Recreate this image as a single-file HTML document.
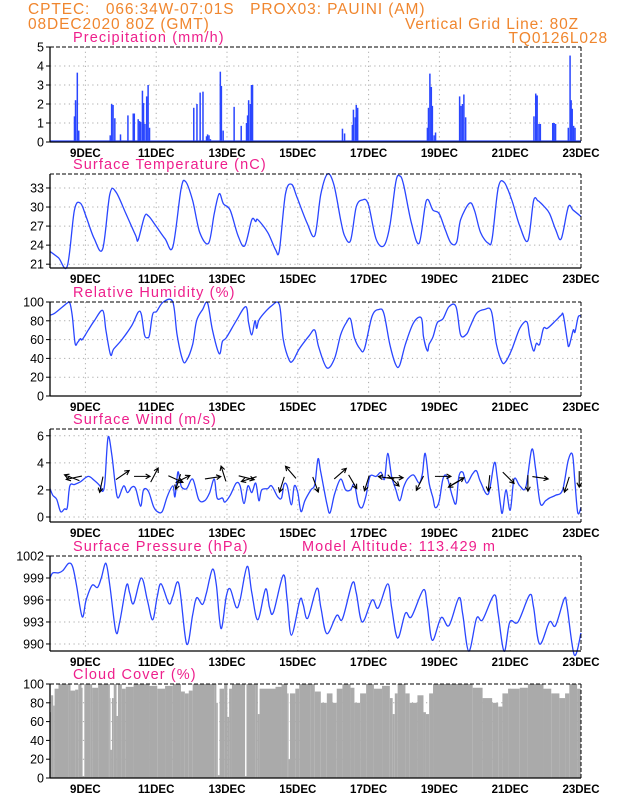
<!DOCTYPE html>
<html><head><meta charset="utf-8">
<style>
html,body{margin:0;padding:0;background:#fff;}
body{width:618px;height:800px;overflow:hidden;font-family:"Liberation Sans",sans-serif;}
svg text{font-family:"Liberation Sans",sans-serif;}
</style></head>
<body>
<svg id="chart" width="618" height="800" viewBox="0 0 618 800" xmlns="http://www.w3.org/2000/svg">
<g fill="#f0862e" font-size="15.5" letter-spacing="0.9">
<text x="28" y="14" xml:space="preserve">CPTEC:   066:34W-07:01S   PROX03: PAUINI (AM)</text>
<text x="28" y="29">08DEC2020 80Z (GMT)</text>
<text x="579" y="29" text-anchor="end">Vertical Grid Line: 80Z</text>
<text x="608" y="43" text-anchor="end">TQ0126L028</text>
</g>
</svg>
<script>
// ===== data (time in days since 08DEC 08Z) =====
const dateLabels = ["9DEC","11DEC","13DEC","15DEC","17DEC","19DEC","21DEC","23DEC"];
const dateDays = [1,3,5,7,9,11,13,15];

const precipDays = [.69,.72,.77,.81,1.70,1.74,1.78,1.83,1.99,2.20,2.35,2.38,2.49,2.53,2.56,2.61,2.64,2.68,2.73,2.77,2.81,4.06,4.15,4.24,4.32,4.42,4.45,4.49,4.53,4.81,4.84,4.89,5.20,5.40,5.55,5.58,5.61,5.66,5.69,5.72,6.40,6.48,8.26,8.32,8.54,8.57,8.62,8.65,8.69,10.66,10.69,10.73,10.77,10.80,10.85,10.89,11.57,11.61,11.65,11.69,11.74,13.67,13.72,13.76,13.81,13.85,14.20,14.24,14.28,14.64,14.69,14.72,14.75,14.79,14.83];
const precipVals = [1.35,2.2,3.65,0.6,0.35,2.0,1.95,1.25,0.4,1.4,1.5,1.5,1.2,1.1,1.05,2.7,2.05,0.95,2.4,3.0,0.75,1.8,2.0,2.6,2.65,0.3,0.4,0.35,0.15,3.7,2.95,0.6,1.85,0.85,1.0,1.4,2.2,2.0,3.0,3.0,0.07,0.07,0.7,0.45,0.9,1.7,1.3,1.95,1.8,0.75,1.8,3.6,2.9,1.9,0.35,0.5,2.4,1.9,2.0,2.5,1.3,1.35,2.55,2.45,0.95,0.95,1.0,1.0,0.95,0.75,4.55,2.2,1.75,0.85,0.75];

const tempDays = [0,.24,.49,.69,.86,1.02,1.25,1.49,1.69,1.86,2.14,2.42,2.49,2.67,2.78,2.97,3.25,3.47,3.70,3.83,4.03,4.23,4.48,4.64,4.78,4.90,5.09,5.31,5.50,5.70,5.81,5.87,6.15,6.37,6.48,6.65,6.82,6.98,7.26,7.48,7.65,7.84,8.02,8.21,8.32,8.49,8.65,8.82,8.99,9.21,9.43,9.60,9.77,9.88,9.99,10.21,10.43,10.63,10.82,10.99,11.16,11.33,11.49,11.60,11.85,11.99,12.16,12.38,12.49,12.66,12.83,13.05,13.27,13.50,13.66,13.78,13.83,13.94,14.11,14.28,14.44,14.64,14.78,15];
const tempVals = [23,22,20.7,29.5,30.6,28.5,25,23.4,32,32.4,29,25.5,24.8,28.5,28.6,27.2,25,23.7,32.8,34,31,26,24.3,29,32.1,30.5,29.5,25.5,23.9,28,27.7,28,26,23.3,23.2,32,33.6,31.5,27.5,25.5,32,35.2,33.5,28,25.5,24.7,30,31.1,30.5,25,23.9,27,34,34.9,33.5,27.5,24.3,31,29.5,29,26.5,24.3,24.5,28,30.6,29.5,26,24.3,25,33,33.9,31,27,24.7,31,31,30.8,30.2,29,26.5,25,30,29.5,28.5];

const rhDays = [0,.13,.36,.49,.56,.63,.71,.78,.86,.91,1.08,1.25,1.49,1.58,1.71,1.80,2.03,2.31,2.49,2.58,2.67,2.75,2.81,2.90,3.01,3.20,3.47,3.59,3.75,3.86,4.03,4.14,4.31,4.45,4.59,4.78,4.87,4.98,5.26,5.53,5.61,5.70,5.79,5.84,5.92,6.26,6.48,6.59,6.76,6.87,7.04,7.32,7.48,7.59,7.82,8.04,8.21,8.37,8.49,8.60,8.76,8.88,9.10,9.29,9.43,9.60,9.77,9.88,10.04,10.27,10.49,10.55,10.66,10.71,10.82,10.94,11.10,11.27,11.47,11.60,11.77,11.88,12.05,12.27,12.47,12.61,12.77,12.88,13.05,13.27,13.47,13.55,13.66,13.74,13.83,13.94,14.05,14.28,14.44,14.50,14.61,14.66,14.78,14.83,14.92,15];
const rhVals = [86,88,95,99,99,85,56,57,61,60,70,80,91,70,44,50,60,75,89,87,65,62,65,87,90,100,100,65,38,38,55,80,92,99,70,45,58,62,80,95,78,65,80,72,82,96,97,60,38,38,50,64,70,52,30,40,65,78,82,62,50,50,85,92,88,55,33,33,55,78,83,63,48,55,63,78,82,95,95,65,66,75,88,92,90,55,36,37,50,72,79,63,48,56,55,72,72,80,86,86,60,53,70,68,84,85];

const windDays = [0,.08,.19,.30,.41,.49,.56,.69,.86,1.08,1.25,1.41,1.49,1.55,1.64,1.75,1.84,1.92,2.08,2.19,2.31,2.42,2.56,2.64,2.78,2.92,3.03,3.17,3.31,3.47,3.53,3.61,3.67,3.72,3.86,4.03,4.20,4.37,4.51,4.64,4.72,4.87,4.94,5.09,5.26,5.37,5.48,5.59,5.70,5.81,5.90,5.98,6.15,6.26,6.43,6.54,6.61,6.70,6.82,6.90,7.00,7.09,7.20,7.37,7.48,7.57,7.65,7.82,7.91,8.04,8.21,8.35,8.49,8.60,8.71,8.82,8.93,9.04,9.21,9.35,9.45,9.54,9.65,9.77,9.88,9.99,10.10,10.27,10.43,10.52,10.60,10.71,10.82,10.88,10.99,11.10,11.21,11.36,11.47,11.55,11.66,11.77,11.94,12.05,12.16,12.38,12.55,12.63,12.72,12.78,12.88,13.00,13.11,13.27,13.44,13.61,13.72,13.85,14.00,14.11,14.28,14.48,14.64,14.76,14.83,14.91,15];
const windVals = [2.1,1.6,1.3,0.4,0.6,0.7,2.3,2.4,2.6,3.0,2.7,2.3,1.9,2.6,5.9,4.5,2.5,1.4,2.3,1.8,2.2,2.1,0.8,2.0,1.9,0.8,0.4,0.4,1.5,2.3,1.5,3.3,2.7,2.2,2.1,2.8,1.3,1.2,1.8,2.8,1.4,1.4,1.1,1.6,2.5,2.3,1.0,2.3,1.8,2.5,1.2,2.0,2.1,2.3,1.5,1.4,2.4,2.3,0.9,2.3,1.8,0.4,1.2,2.0,2.4,4.3,3.3,1.0,0.3,1.7,2.8,2.0,2.0,2.4,1.0,0.7,1.6,3.0,3.0,3.3,2.8,4.7,3.0,2.0,1.2,2.2,2.8,3.1,2.5,3.2,4.7,2.5,1.4,0.7,1.1,2.8,3.0,1.6,1.0,3.0,3.3,2.5,3.2,3.4,2.6,1.7,4.0,3.0,1.0,0.3,2.0,0.5,2.8,2.3,2.2,5.0,3.5,1.0,1.2,1.4,1.6,2.0,4.2,4.6,2.5,0.3,0.7];

// wind arrows: position (day, speed level) and direction components
const arrowDays = [0.62,0.68,1.45,2.05,2.6,2.95,3.55,3.62,3.75,4.6,4.9,5.55,5.62,6.55,6.8,7.5,8.2,8.55,8.95,9.5,9.7,9.75,10.45,11.1,11.45,11.5,12.4,12.95,13.5,13.85,14.6,14.95];
const arrowLevels = [2.9,2.9,2.4,3.1,3.0,3.1,2.8,2.6,2.8,2.9,3.2,2.9,2.8,2.4,3.3,2.4,3.2,2.6,2.5,2.9,2.7,2.9,2.5,3.0,2.5,2.6,2.5,2.9,2.5,2.9,2.4,2.8];
const arrowU = [-0.9,-0.95,-0.2,0.8,1.0,0.45,1.0,-0.3,0.9,1.0,-0.3,1.0,-0.95,-0.3,-0.65,0.35,0.75,0.5,-0.3,-1.0,0.7,1.0,-0.45,1.0,-0.85,0.85,-0.1,0.7,0.0,1.0,-0.3,0.0];
const arrowV = [0.35,-0.2,-0.95,0.55,0.0,0.85,-0.45,-0.95,0.45,0.15,0.95,-0.25,-0.3,-0.95,0.75,-0.95,0.65,-0.85,-0.95,0.15,-0.7,0.0,-0.9,0.0,-0.5,0.5,-1.0,-0.7,-1.0,-0.15,-0.95,-1.0];

const presDays = [0,.08,.24,.36,.53,.64,.75,.91,1.02,1.19,1.34,1.45,1.58,1.69,1.86,1.97,2.16,2.25,2.36,2.58,2.75,2.90,3.03,3.14,3.36,3.47,3.64,3.86,4.03,4.14,4.31,4.42,4.59,4.70,4.83,4.98,5.09,5.26,5.37,5.57,5.70,5.87,6.09,6.20,6.31,6.59,6.70,6.82,7.06,7.15,7.28,7.54,7.65,7.82,8.10,8.26,8.54,8.65,8.82,9.10,9.27,9.54,9.65,9.82,10.04,10.21,10.55,10.66,10.80,11.05,11.27,11.55,11.66,11.83,12.05,12.22,12.55,12.66,12.83,12.99,13.22,13.55,13.66,13.83,14.11,14.28,14.53,14.61,14.81,15];
const presVals = [999,999.7,999.7,1000,1001,1000.5,998,993.7,996,998,997.7,999,1001,998,991.7,993,998,997,995.5,999,996,993.3,996.5,998.2,995.5,996.5,998.2,990,994,996.3,995.4,997,1000.2,998,992.1,996.5,997.5,995,996,1000.6,997,993.3,997.5,995,994.3,999.4,996,991.2,996,995.4,993.5,997.6,995,991.4,993.9,993.4,998.3,997,993,996,994.9,998.2,995,990.8,994.2,993.7,997.4,995,990.5,993.6,992.5,996.3,994,989,993.5,993.3,996.7,994,989,993,993,996.7,995,990,993,992.5,996.2,995,988.5,991.5];

const cloudDays = [0,.03,.09,.13,.24,.52,.58,.71,.80,.89,.92,.97,1.14,1.19,1.36,1.64,1.69,1.71,1.75,1.80,1.88,1.92,2.03,2.14,2.36,2.81,3.03,3.25,3.47,3.70,3.81,3.92,4.03,4.64,4.70,4.74,4.79,4.92,5.01,5.06,5.14,5.48,5.51,5.55,5.81,5.87,5.92,6.37,6.54,6.70,6.74,6.78,6.93,7.04,7.37,7.48,7.65,7.82,7.98,8.10,8.26,8.49,8.60,8.76,8.93,9.15,9.38,9.60,9.68,9.74,9.82,10.04,10.16,10.38,10.55,10.62,10.71,10.82,11.94,12.22,12.49,12.66,12.78,12.94,13.27,13.50,13.94,14.16,14.39,14.55,14.67,14.89,15];
const cloudVals = [70,88,77,95,100,100,93,94,100,96,2,100,100,96,100,100,85,30,85,100,66,100,95,97,100,98,95,98,100,92,90,93,100,100,80,3,95,100,65,95,100,100,2,100,100,68,95,97,100,90,20,90,95,100,100,92,80,90,80,95,100,96,80,90,100,95,98,85,68,90,100,90,80,88,70,68,90,100,96,85,80,76,90,95,96,100,95,90,85,90,100,95,100];

// ===== drawing =====
const NS = "http://www.w3.org/2000/svg";
const svg = document.getElementById("chart");
const X0 = 50, X1 = 581, NDAYS = 15;
const xScale = d => X0 + d / NDAYS * (X1 - X0);
const BLUE = "#2a46ff", PINK = "#ee1f8c";

function mk(tag, attrs, parent) {
  const e = document.createElementNS(NS, tag);
  for (const k in attrs) e.setAttribute(k, attrs[k]);
  (parent || svg).appendChild(e);
  return e;
}

function panel(key, title, top, bottom, vmin, vmax, ticks) {
  const g = mk("g", {});
  
  
  const y = v => bottom - (v - vmin) / (vmax - vmin) * (bottom - top);
  const t = mk("text", {x: 73, y: top - 5, fill: PINK, "font-size": 14.5, "letter-spacing": 1.1}, g);
  t.textContent = title;
  
  
  dateDays.forEach((d, i) => {
    if (d < NDAYS) {
      const gl = mk("line", {x1: xScale(d), x2: xScale(d), y1: top, y2: bottom, stroke: "#aaa", "stroke-dasharray": "1.2,3.5", "stroke-width": 1}, g);
      
      
    }
    const lb = mk("text", {x: xScale(d), y: bottom + 15, "text-anchor": "middle", "font-size": 11.5, fill: "#000", "font-weight": "bold"}, g);
    lb.textContent = dateLabels[i];
    
    
  });
  ticks.forEach(v => {
    const yy = y(v);
    if (yy > top + 1 && yy < bottom - 1) {
      const hl = mk("line", {x1: X0, x2: X1, y1: yy, y2: yy, stroke: "#aaa", "stroke-dasharray": "1.2,3.5"}, g);
      
      
    }
    mk("line", {x1: X0 - 4, x2: X0, y1: yy, y2: yy, stroke: "#000"}, g);
    const tl = mk("text", {x: X0 - 6, y: yy + 4.5, "text-anchor": "end", "font-size": 12.5, fill: "#000"}, g);
    tl.textContent = v;
    
    
  });
  const plot = mk("g", {}, g);
  
  
  const frame = () => {
    mk("line", {x1: X0, x2: X1, y1: top, y2: top, stroke: "#000", "stroke-dasharray": "4,2"}, g);
    mk("line", {x1: X1, x2: X1, y1: top, y2: bottom, stroke: "#000", "stroke-dasharray": "4,2"}, g);
    mk("line", {x1: X0, x2: X0, y1: top, y2: bottom, stroke: "#000", "stroke-width": 1.3}, g);
    mk("line", {x1: X0, x2: X1, y1: bottom, y2: bottom, stroke: "#000", "stroke-width": 1.3}, g);
  };
  return {g: plot, y, frame, top, bottom};
}

// smooth Catmull-Rom line through data points
function line(p, days, vals, name) {
  const P = days.map((d, i) => [xScale(d), p.y(vals[i])]);
  let d = `M${P[0][0].toFixed(1)},${P[0][1].toFixed(1)}`;
  for (let i = 0; i < P.length - 1; i++) {
    const a = P[Math.max(0, i - 1)], b = P[i], c = P[i + 1], e = P[Math.min(P.length - 1, i + 2)];
    const c1x = b[0] + (c[0] - a[0]) / 6, c1y = b[1] + (c[1] - a[1]) / 6;
    const c2x = c[0] - (e[0] - b[0]) / 6, c2y = c[1] - (e[1] - b[1]) / 6;
    d += `C${c1x.toFixed(1)},${c1y.toFixed(1)} ${c2x.toFixed(1)},${c2y.toFixed(1)} ${c[0].toFixed(1)},${c[1].toFixed(1)}`;
  }
  const pl = mk("path", {d: d, fill: "none", stroke: BLUE, "stroke-width": 1.3, "stroke-linejoin": "round"}, p.g);
  
  
}

// precipitation
const pP = panel("precipitation", "Precipitation (mm/h)", 47, 142, 0, 5, [0,1,2,3,4,5]);
mk("line", {x1: X0, x2: X1, y1: 141, y2: 141, stroke: BLUE, "stroke-width": 1.2}, pP.g);
precipDays.forEach((d, i) => {
  const yy = pP.y(precipVals[i]);
  const r = mk("rect", {x: xScale(d) - 0.7, y: yy, width: 1.5, height: pP.bottom - yy, fill: BLUE}, pP.g);
  
  
});
pP.frame();

// temperature
const pT = panel("temperature", "Surface Temperature (nC)", 174, 268, 20.4, 35.2, [21,24,27,30,33]);
line(pT, tempDays, tempVals, "temperature-line");
pT.frame();

// humidity
const pH = panel("humidity", "Relative Humidity (%)", 302, 396, 0, 100, [0,20,40,60,80,100]);
line(pH, rhDays, rhVals, "humidity-line");
pH.frame();

// wind
const pW = panel("wind", "Surface Wind (m/s)", 429, 522, -0.37, 6.5, [0,2,4,6]);
line(pW, windDays, windVals, "wind-line");
arrowDays.forEach((d, i) => {
  const cx = xScale(d), cy = pW.y(arrowLevels[i]);
  const L = 16, u = arrowU[i], v = arrowV[i];
  const n = Math.hypot(u, v) || 1;
  const dx = u / n * L, dy = -v / n * L;
  const x1 = cx - dx / 2, y1 = cy - dy / 2, x2 = cx + dx / 2, y2 = cy + dy / 2;
  const ang = Math.atan2(dy, dx);
  const h = 5;
  const a = mk("path", {d: `M${x1},${y1}L${x2},${y2}M${x2 - h*Math.cos(ang-0.5)},${y2 - h*Math.sin(ang-0.5)}L${x2},${y2}L${x2 - h*Math.cos(ang+0.5)},${y2 - h*Math.sin(ang+0.5)}`, stroke: "#000", fill: "none", "stroke-width": 1.1}, pW.g);
  
  
});
pW.frame();

// pressure
const pS = panel("pressure", "Surface Pressure (hPa)", 556, 651, 989.04, 1002, [990,993,996,999,1002]);
const alt = mk("text", {x: 302, y: 551, fill: PINK, "font-size": 14.5, "letter-spacing": 1.1});
alt.textContent = "Model Altitude: 113.429 m";


line(pS, presDays, presVals, "pressure-line");
pS.frame();

// cloud cover
const pC = panel("cloud", "Cloud Cover (%)", 684, 778, 0, 100, [0,20,40,60,80,100]);
cloudDays.forEach((d, i) => {
  if (i === cloudDays.length - 1) return;
  const xa = xScale(d), xb = xScale(cloudDays[i + 1]);
  const yy = pC.y(cloudVals[i]);
  const r = mk("rect", {x: xa, y: yy, width: Math.max(0.5, xb - xa), height: pC.bottom - yy, fill: "#aaaaaa"}, pC.g);
  
  
});
pC.frame();
</script>
</body></html>
